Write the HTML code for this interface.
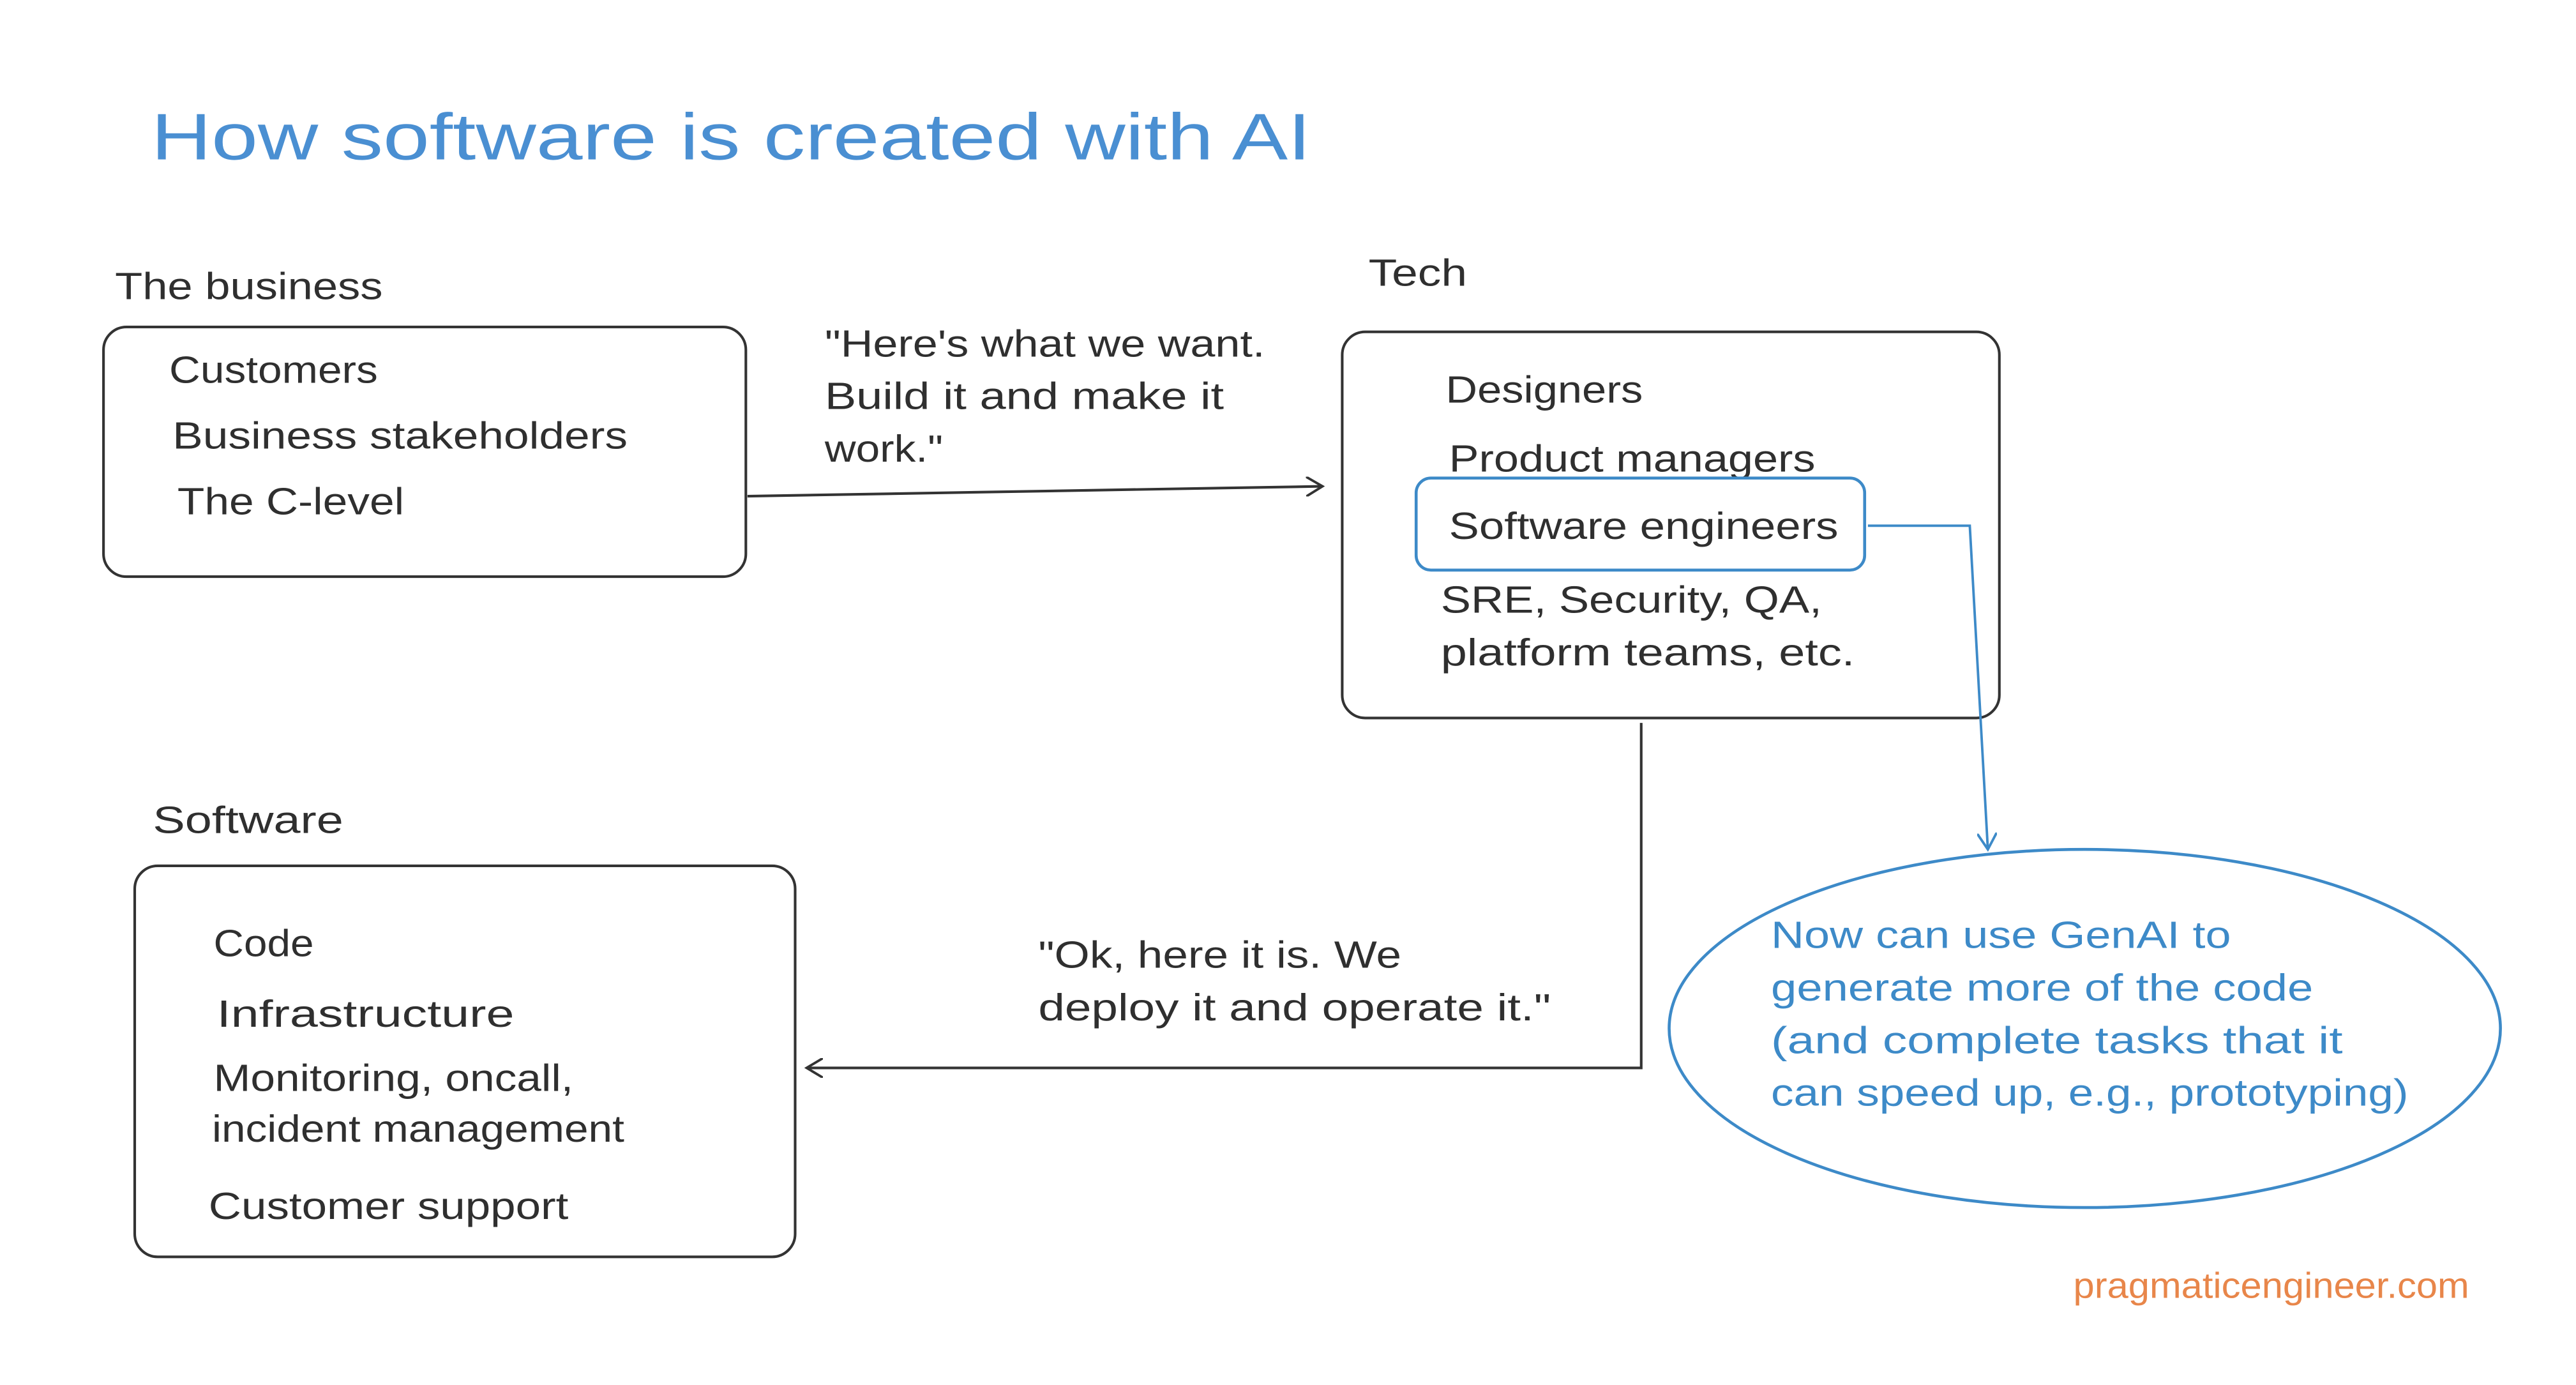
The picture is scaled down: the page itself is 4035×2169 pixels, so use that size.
<!DOCTYPE html>
<html><head><meta charset="utf-8"><style>
html,body{margin:0;padding:0;background:#fff;}
svg{display:block;}
text{font-family:"Liberation Sans",sans-serif;}
</style></head><body>
<svg width="4035" height="2169" viewBox="0 0 1568 843" preserveAspectRatio="none" xmlns="http://www.w3.org/2000/svg">
<rect width="1568" height="843" fill="#fff"/>
<defs>
<marker id="ah" markerWidth="12" markerHeight="12" refX="10" refY="6" orient="auto" markerUnits="userSpaceOnUse"><path d="M0,0 L10,6 L0,12" fill="none" stroke="#333" stroke-width="1.5"/></marker>
<marker id="ahb" markerWidth="12" markerHeight="12" refX="10" refY="6" orient="auto" markerUnits="userSpaceOnUse"><path d="M0,0 L10,6 L0,12" fill="none" stroke="#3d8ac8" stroke-width="1.5"/></marker>
</defs>
<text x="92" y="97" font-size="40" fill="#4a8fd2" textLength="706" lengthAdjust="spacingAndGlyphs">How software is created with AI</text>

<g fill="#2f2f2f" font-size="23">
<text x="70" y="182" textLength="163" lengthAdjust="spacingAndGlyphs">The business</text>
<text x="103" y="233" textLength="127" lengthAdjust="spacingAndGlyphs">Customers</text>
<text x="105" y="273" textLength="277" lengthAdjust="spacingAndGlyphs">Business stakeholders</text>
<text x="108" y="313" textLength="138" lengthAdjust="spacingAndGlyphs">The C-level</text>
<text x="502" y="217" textLength="268" lengthAdjust="spacingAndGlyphs">"Here's what we want.</text>
<text x="502" y="249" textLength="243" lengthAdjust="spacingAndGlyphs">Build it and make it</text>
<text x="502" y="281" textLength="72" lengthAdjust="spacingAndGlyphs">work."</text>
<text x="833" y="174" textLength="60" lengthAdjust="spacingAndGlyphs">Tech</text>
<text x="880" y="245" textLength="120" lengthAdjust="spacingAndGlyphs">Designers</text>
<text x="882" y="287" textLength="223" lengthAdjust="spacingAndGlyphs">Product managers</text>
<text x="882" y="328" textLength="237" lengthAdjust="spacingAndGlyphs">Software engineers</text>
<text x="877" y="373" textLength="232" lengthAdjust="spacingAndGlyphs">SRE, Security, QA,</text>
<text x="877" y="405" textLength="252" lengthAdjust="spacingAndGlyphs">platform teams, etc.</text>
<text x="93" y="507" textLength="116" lengthAdjust="spacingAndGlyphs">Software</text>
<text x="130" y="582" textLength="61" lengthAdjust="spacingAndGlyphs">Code</text>
<text x="132" y="625" textLength="181" lengthAdjust="spacingAndGlyphs">Infrastructure</text>
<text x="130" y="664" textLength="219" lengthAdjust="spacingAndGlyphs">Monitoring, oncall,</text>
<text x="129" y="695" textLength="251" lengthAdjust="spacingAndGlyphs">incident management</text>
<text x="127" y="742" textLength="219" lengthAdjust="spacingAndGlyphs">Customer support</text>
<text x="632" y="589" textLength="221" lengthAdjust="spacingAndGlyphs">"Ok, here it is. We</text>
<text x="632" y="621" textLength="312" lengthAdjust="spacingAndGlyphs">deploy it and operate it."</text>
</g>

<g fill="none" stroke="#333" stroke-width="1.6">
<rect x="63" y="199" width="391" height="152" rx="14"/>
<rect x="817" y="202" width="400" height="235" rx="14"/>
<rect x="82" y="527" width="402" height="238" rx="14"/>
<path d="M455,302 L805,296" marker-end="url(#ah)"/>
<path d="M999,440 L999,650 L491,650" marker-end="url(#ah)"/>
</g>

<g fill="none" stroke="#3d8ac8" stroke-width="1.8">
<rect x="862" y="291" width="273" height="56" rx="9"/>
<path d="M1137,320 L1199,320 L1210,517" marker-end="url(#ahb)" stroke-width="1.5"/>
<ellipse cx="1269" cy="626" rx="253" ry="109"/>
</g>

<g fill="#3d8ac8" font-size="23">
<text x="1078" y="577" textLength="280" lengthAdjust="spacingAndGlyphs">Now can use GenAI to</text>
<text x="1078" y="609" textLength="330" lengthAdjust="spacingAndGlyphs">generate more of the code</text>
<text x="1078" y="641" textLength="348" lengthAdjust="spacingAndGlyphs">(and complete tasks that it</text>
<text x="1078" y="673" textLength="388" lengthAdjust="spacingAndGlyphs">can speed up, e.g., prototyping)</text>
</g>

<text x="1262" y="790" font-size="22" fill="#e8864a" textLength="241" lengthAdjust="spacingAndGlyphs">pragmaticengineer.com</text>
</svg>
</body></html>
